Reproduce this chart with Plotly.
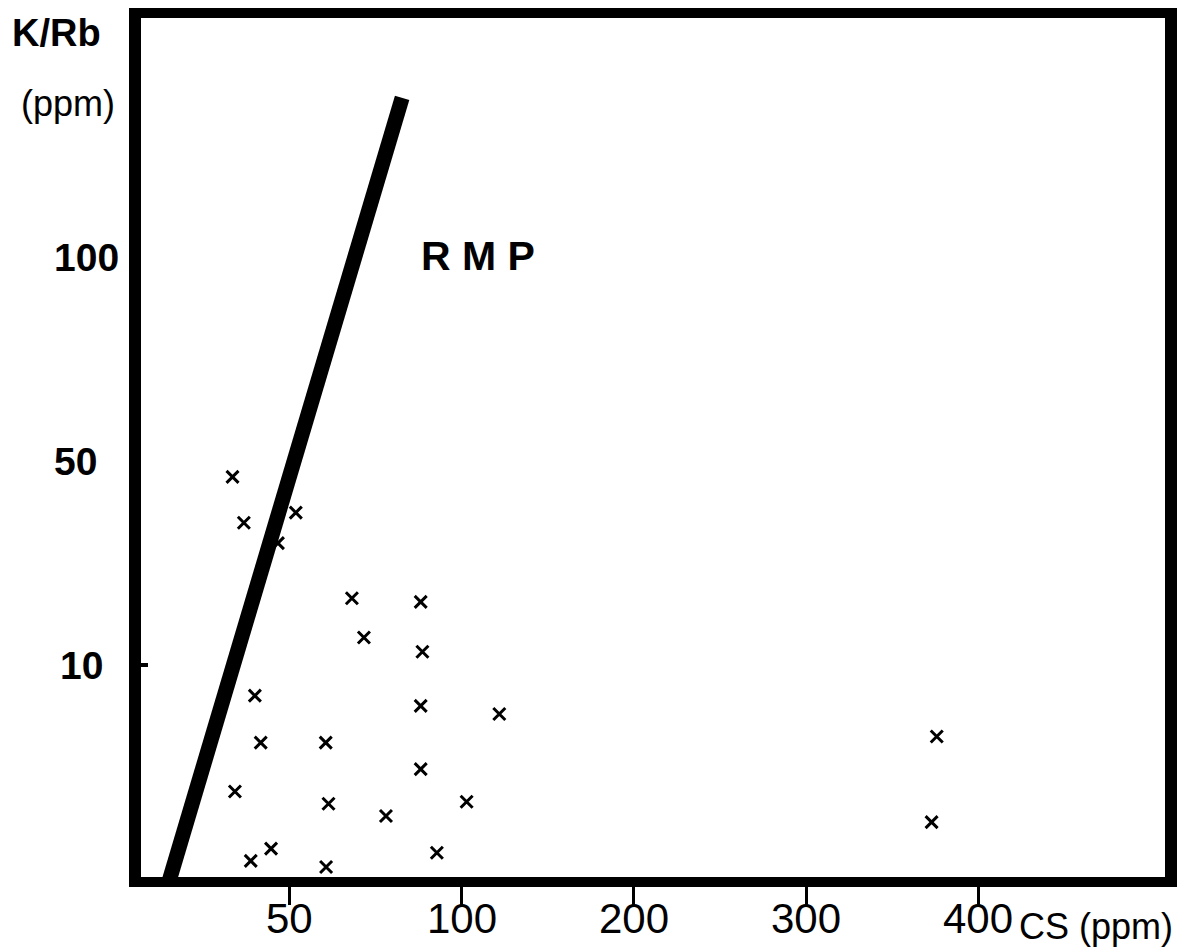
import numpy as np
import plotly.graph_objects as go

# ---- data ----
cs_ppm = [33.3, 36.6, 51.7, 46.5, 68.0, 88.0, 71.5, 88.5, 39.8, 88.0, 121.7, 41.5,
          60.4, 88.0, 34.0, 61.2, 102.7, 77.9, 44.5, 38.6, 60.5, 92.7, 376.0, 373.0]
k_rb = [46.9, 37.9, 39.9, 33.9, 23.1, 22.4, 15.4, 12.6, 8.5, 8.0, 7.6, 6.2,
        6.2, 4.9, 3.8, 3.2, 3.3, 2.6, 1.0, 0.4, 0.1, 0.8, 6.5, 2.3]

rmp_cs = [14.5, 82.6]
rmp_krb = [-0.8, 139.0]

x_tick_values = [50, 100, 200, 300, 400]
x_tick_labels = ["50", "100", "200", "300", "400"]
y_tick_values = [10, 50, 100]
y_tick_labels = ["10", "50", "100"]

# ---- the chart's own (non-uniform) scales: tick values equally spaced ----
X_SCALE_VALUES = [0, 50, 100, 200, 300, 400, 500]
Y_SCALE_VALUES = [0, 10, 50, 100, 150]


def _scale(v, anchors):
    a = np.asarray(anchors, dtype=float)
    v = np.asarray(v, dtype=float)
    idx = np.arange(len(a), dtype=float)
    u = np.interp(v, a, idx)
    # linear extension below the first anchor
    lo = v < a[0]
    u = np.where(lo, (v - a[0]) / (a[1] - a[0]), u)
    return u


def x_scale(v):
    return _scale(v, X_SCALE_VALUES)


def y_scale(v):
    return _scale(v, Y_SCALE_VALUES)


# page has an 8px body margin: figure pixels = page pixels - 8
OFF = 8
W, H = 1188 - OFF, 948 - OFF
L, R, T, B = 141 - OFF, 23, 18 - OFF, 71
PW, PH = W - L - R, H - T - B


def px(xp):
    return (xp - OFF - L) / PW


def py(yp):
    return (H - B - (yp - OFF)) / PH


fig = go.Figure()

fig.add_trace(go.Scatter(
    x=x_scale(rmp_cs), y=y_scale(rmp_krb), mode="lines",
    line=dict(color="black", width=15), hoverinfo="skip", showlegend=False,
))

fig.add_trace(go.Scatter(
    x=x_scale(cs_ppm), y=y_scale(k_rb), mode="markers",
    marker=dict(symbol="x-thin", size=12, line=dict(color="black", width=3)),
    showlegend=False,
))

font = "Liberation Sans, Arial, sans-serif"
narrow = "Liberation Sans Narrow, Arial Narrow, Liberation Sans, sans-serif"

fig.update_xaxes(
    range=[0.134, 6.087], showgrid=False, zeroline=False,
    showline=True, mirror=True, linecolor="black", linewidth=10,
    tickvals=x_scale(x_tick_values), ticks="outside", ticklen=18, tickwidth=3,
    tickcolor="black", showticklabels=False,
)
fig.update_yaxes(
    range=[-0.039, 4.172], showgrid=False, zeroline=False,
    showline=True, mirror=True, linecolor="black", linewidth=12,
    tickvals=y_scale([10]), ticks="inside", ticklen=7, tickwidth=4,
    tickcolor="black", showticklabels=False,
)

annotations = []
y_label_left = [58, 52, 52]
for val, lab, lx in zip(y_tick_values, y_tick_labels, y_label_left):
    annotations.append(dict(
        x=px(lx), y=float(y_scale(val)), xref="paper", yref="y",
        text=lab, showarrow=False, xanchor="left", yanchor="middle",
        font=dict(family=font, size=39, color="black", weight="bold"),
    ))

for val, lab in zip(x_tick_values, x_tick_labels):
    annotations.append(dict(
        x=float(x_scale(val)), y=py(918), xref="x", yref="paper",
        text=lab, showarrow=False, xanchor="center", yanchor="middle",
        font=dict(family=narrow, size=42, color="black"),
    ))

n_fixed = len(annotations)
annotations += [
    dict(x=px(56), y=py(33), text="K/Rb", font=dict(family=font, size=38, color="black", weight="bold")),
    dict(x=px(68), y=py(103), text="(ppm)", font=dict(family=font, size=36, color="black")),
    dict(x=px(478), y=py(256), text="R M P", font=dict(family=font, size=41, color="black", weight="bold")),
    dict(x=px(1096), y=py(926), text="CS (ppm)", font=dict(family=font, size=36, color="black")),
]
for a in annotations[n_fixed:]:
    a.update(xref="paper", yref="paper", showarrow=False, xanchor="center", yanchor="middle")

fig.update_layout(
    width=W, height=H, margin=dict(l=L, r=R, t=T, b=B, autoexpand=False),
    paper_bgcolor="white", plot_bgcolor="white",
    annotations=annotations,
)

fig.write_html("out.html")
